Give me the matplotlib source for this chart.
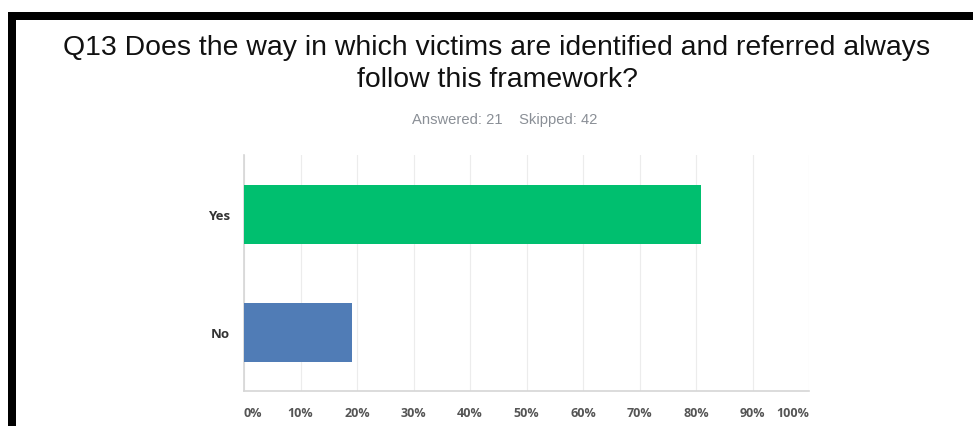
import matplotlib
matplotlib.use("Agg")
import matplotlib.pyplot as plt
from matplotlib.patches import Rectangle

# Survey data
categories = ["Yes", "No"]
percent = [80.95, 19.05]
bar_colors = ["#00BF6F", "#507CB6"]
tick_values = [0, 10, 20, 30, 40, 50, 60, 70, 80, 90, 100]
tick_labels = ["0%", "10%", "20%", "30%", "40%", "50%", "60%", "70%", "80%", "90%", "100%"]
title = "Q13 Does the way in which victims are identified and referred always\nfollow this framework?"
answered = 21
skipped = 42

W, H = 973, 427
fig = plt.figure(figsize=(W / 100, H / 100), dpi=100)
fig.patch.set_facecolor("white")

# Black frame on the top and left edges
fig.add_artist(Rectangle((8 / W, 0), 8 / W, (H - 13) / H, transform=fig.transFigure,
                         facecolor="black", edgecolor="none"))
fig.add_artist(Rectangle((8 / W, (H - 21) / H), 1 - 8 / W, 8 / H, transform=fig.transFigure,
                         facecolor="black", edgecolor="none"))

# Title and response counts
fig.text(497 / W, 1 - 64 / H, title, ha="center", va="center", fontsize=20.4,
         family="Liberation Sans", color="#111111", linespacing=1.3)
fig.text(505 / W, 1 - 120 / H, f"Answered: {answered}    Skipped: {skipped}",
         ha="center", va="center", fontsize=10.6, family="Liberation Sans", color="#8a8f96")

left, right, top, bottom = 244, 809, 156, 392
ax = fig.add_axes([left / W, 1 - bottom / H, (right - left) / W, (bottom - top) / H])

y = list(range(len(categories)))
ax.barh(y, percent, height=0.5, color=bar_colors, edgecolor="none", zorder=3)
ax.set_xlim(0, 100)
ax.set_ylim(len(categories) - 0.5, -0.5)

ax.set_yticks(y)
ax.set_yticklabels(categories, fontsize=9.5, fontweight="bold", family="Open Sans", color="#333333")
ax.set_xticks(tick_values)
ax.set_xticklabels(tick_labels, fontsize=9, fontweight="bold", family="Open Sans", color="#555555")
xt = ax.get_xticklabels()
xt[0].set_ha("left")
xt[-1].set_ha("right")
ax.tick_params(axis="both", length=0)
ax.tick_params(axis="x", pad=11)
ax.tick_params(axis="y", pad=10)

ax.grid(axis="x", color="#ececec", linewidth=0.8, zorder=0)
for side in ["top", "right"]:
    ax.spines[side].set_visible(False)
ax.spines["left"].set_color("#d6d6d6")
ax.spines["bottom"].set_color("#d6d6d6")
ax.spines["left"].set_linewidth(1.2)
ax.spines["bottom"].set_linewidth(1.2)

fig.savefig("out.png", dpi=100)
